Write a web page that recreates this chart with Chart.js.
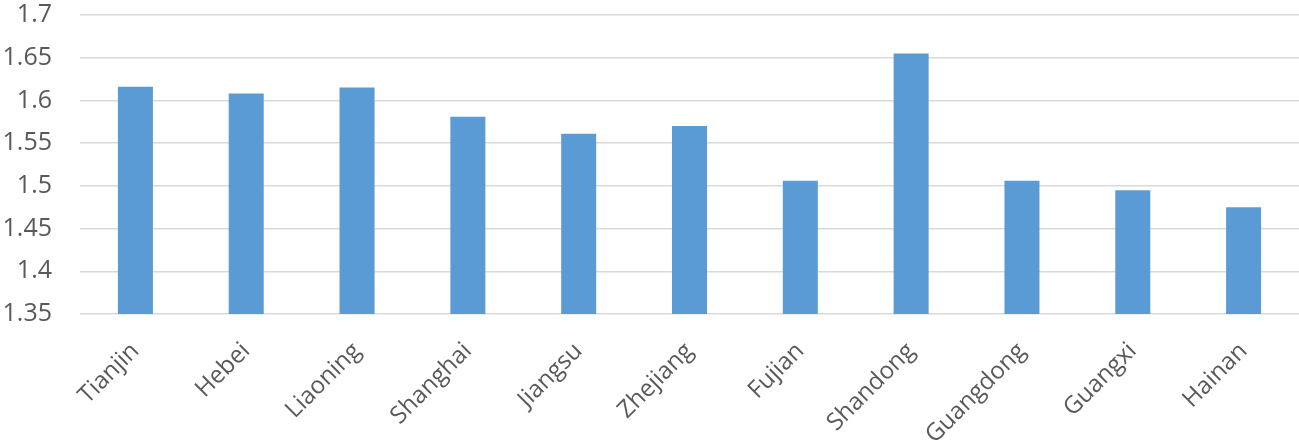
<!DOCTYPE html>
<html>
<head>
<meta charset="utf-8">
<script src="https://cdn.jsdelivr.net/npm/chart.js@4/dist/chart.umd.min.js"></script>
<style>
  html, body { margin: 0; padding: 0; background: #fff; }
  #wrap { width: 1299px; height: 446px; }
</style>
</head>
<body>
<div id="wrap"><canvas id="chart"></canvas></div>
<script>
// datos del gráfico
const provinces = ['Tianjin', 'Hebei', 'Liaoning', 'Shanghai', 'Jiangsu', 'Zhejiang', 'Fujian', 'Shandong', 'Guangdong', 'Guangxi', 'Hainan'];
const values = [1.616, 1.608, 1.615, 1.581, 1.561, 1.570, 1.506, 1.655, 1.506, 1.495, 1.475];
const yTicks = [1.35, 1.4, 1.45, 1.5, 1.55, 1.6, 1.65, 1.7];

const ctx = document.getElementById('chart').getContext('2d');
new Chart(ctx, {
  type: 'bar',
  data: {
    labels: provinces,
    datasets: [{
      data: values,
      backgroundColor: '#5B9BD5',
      barPercentage: 0.316,
      categoryPercentage: 1
    }]
  },
  options: {
    responsive: true,
    maintainAspectRatio: false,
    animation: false,
    layout: { padding: { left: 0, right: 0, top: 15, bottom: 0 } },
    plugins: {
      legend: { display: false },
      tooltip: { enabled: false }
    },
    scales: {
      x: {
        grid: { display: false },
        border: { display: false },
        ticks: {
          color: '#595959',
          font: { family: 'Open Sans', size: 24 },
          maxRotation: 45,
          minRotation: 45,
          padding: 15
        },
        afterFit: (axis) => {
          // fijar la altura del eje como en la imagen
          axis.height = 132;
          axis.paddingLeft = 0;
          axis.paddingRight = 0;
          axis.paddingTop = 0;
          axis.paddingBottom = 0;
        }
      },
      y: {
        min: 1.35,
        max: 1.7,
        afterBuildTicks: (axis) => {
          axis.ticks = yTicks.map(v => ({ value: v }));
        },
        grid: { color: '#d9d9d9', lineWidth: 1.5, drawTicks: false },
        border: { display: false },
        ticks: {
          color: '#595959',
          font: { family: 'Open Sans', size: 25 },
          padding: 28,
          callback: (v) => String(Math.round(v * 100) / 100)
        },
        afterFit: (axis) => {
          axis.width = 80;
          axis.paddingTop = 0;
          axis.paddingBottom = 0;
        }
      }
    }
  }
});
</script>
</body>
</html>
